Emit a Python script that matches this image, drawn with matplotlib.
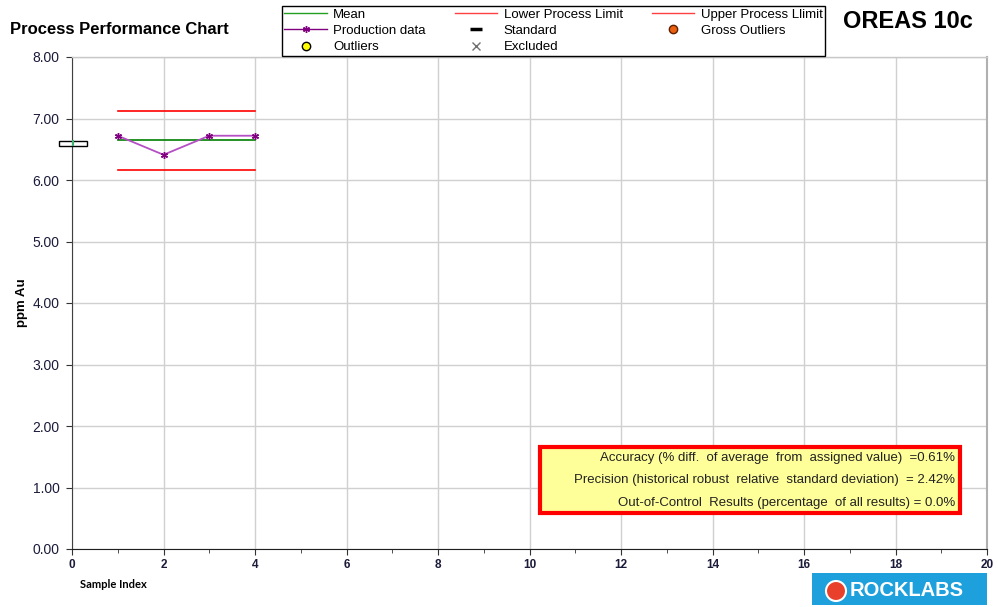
import matplotlib.pyplot as plt
import numpy as np
from matplotlib.lines import Line2D
from matplotlib.patches import Rectangle, Ellipse

plt.rcParams['font.family'] = ['Liberation Sans', 'DejaVu Sans']

sample_index = [1, 2, 3, 4]
production = [6.72, 6.41, 6.72, 6.72]
mean_value = 6.65
lower_limit = 6.16
upper_limit = 7.12
standard_value = 6.60
stats_lines = ['Accuracy (% diff.  of average  from  assigned value)  =0.61%',
               'Precision (historical robust  relative  standard deviation)  = 2.42%',
               'Out-of-Control  Results (percentage  of all results) = 0.0%']

tick_color = '#1b1b3a'

fig = plt.figure(figsize=(9.98, 6.07), dpi=100)
ax = fig.add_axes([72 / 998, 1 - 549 / 607, 915 / 998, 492 / 607])

ax.plot([sample_index[0], sample_index[-1]], [mean_value] * 2, color='#008000', lw=1.2)
ax.plot([sample_index[0], sample_index[-1]], [lower_limit] * 2, color='#ff0000', lw=1.2)
ax.plot([sample_index[0], sample_index[-1]], [upper_limit] * 2, color='#ff0000', lw=1.2)
ax.plot(sample_index, production, color='#b54fc4', lw=1.3,
        marker=(6, 2, 0), ms=5, mec='#800080', mew=1)

# standard box at the left edge
ax.add_patch(Rectangle((-0.28, standard_value - 0.04), 0.6, 0.08, fill=False,
                       ec='black', lw=1, clip_on=False, zorder=5))
ax.plot([0.02, 0.02], [standard_value - 0.035, standard_value + 0.035],
        color='#3cb371', lw=1.5, clip_on=False, zorder=6)

ax.set_xlim(0, 20)
ax.set_ylim(0, 8)
ax.set_xticks(np.arange(0, 21, 2))
ax.set_xticks(np.arange(0, 21, 1), minor=True)
ax.set_yticks(np.arange(0, 9, 1))
ax.set_yticklabels([f'{v:.2f}' for v in np.arange(0, 9, 1)])
ax.tick_params(axis='both', which='major', direction='out', length=4,
               labelsize=10, colors='#333333', labelcolor=tick_color)
ax.tick_params(axis='x', which='major', labelsize=8.5, pad=3)
ax.tick_params(axis='x', which='minor', direction='out', length=3, color='#333333')
ax.tick_params(axis='y', pad=5)
for lab in ax.get_xticklabels():
    lab.set_fontweight('bold')
ax.grid(True, which='major', color='#d0d0d0', lw=1)
ax.set_axisbelow(True)
ax.spines['right'].set_color('#b0b0b0')
ax.spines['right'].set_linewidth(1.5)
ax.spines['top'].set_color('#c8c8c8')
ax.spines['top'].set_linewidth(1)
ax.spines['left'].set_color('#404040')
ax.spines['bottom'].set_color('#202020')

fig.text(22 / 998, 1 - 303 / 607, 'ppm Au', fontsize=9.5, fontweight='bold',
         rotation=90, ha='center', va='center')
fig.text(113 / 998, 1 - 584 / 607, 'Sample Index', fontsize=8, fontweight='bold',
         ha='center', va='center', family=['Lato', 'DejaVu Sans'])

# stats box
fig.patches.append(Rectangle((540 / 998, 1 - 513 / 607), 420 / 998, 66 / 607,
                             transform=fig.transFigure, fc='#ffff99', ec='#ff0000',
                             lw=3, zorder=3))
for i, line in enumerate(stats_lines):
    fig.text(955 / 998, 1 - (458 + i * 22.5) / 607, line, ha='right', va='center',
             fontsize=9.5, color='#222222', zorder=4)

# legend
handles = [
    Line2D([], [], color='#22a022', lw=1),
    Line2D([], [], color='#800080', lw=1, marker=(6, 2, 0), ms=5),
    Line2D([], [], ls='none', marker='o', ms=6, mfc='#ffff00', mec='black'),
    Line2D([], [], color='#ff4040', lw=1),
    Line2D([], [], ls='none', marker='_', ms=8, mew=2.5, color='black'),
    Line2D([], [], ls='none', marker='x', ms=6, color='#707070'),
    Line2D([], [], color='#ff4040', lw=1),
    Line2D([], [], ls='none', marker='o', ms=6, mfc='#e86010', mec='#602000'),
]
labels = ['Mean', 'Production data', 'Outliers', 'Lower Process Limit', 'Standard',
          'Excluded', 'Upper Process Llimit', 'Gross Outliers']
leg = fig.legend(handles, labels, ncol=3, loc='center',
                 bbox_to_anchor=(553.5 / 998, 1 - 31 / 607), fontsize=9.5,
                 frameon=True, fancybox=False, edgecolor='black', framealpha=1,
                 borderpad=0.2, labelspacing=0.3, handlelength=3.2,
                 columnspacing=2.2, handletextpad=0.5)
leg.get_frame().set_linewidth(1)

fig.text(10 / 998, 1 - 30 / 607, 'Process Performance Chart', fontsize=12,
         fontweight='bold', va='center')
fig.text(843 / 998, 1 - 22 / 607, 'OREAS 10c', fontsize=17, fontweight='bold',
         va='center')

# logo
fig.patches.append(Rectangle((812 / 998, 1 - 605 / 607), 175 / 998, 32 / 607,
                             transform=fig.transFigure, fc='#1ea0dc', ec='none'))
fig.patches.append(Ellipse((836 / 998, 1 - 591 / 607), 20 / 998, 20 / 607,
                           transform=fig.transFigure, fc='#e8402a', ec='white', lw=1.5))
fig.text(850 / 998, 1 - 591 / 607, 'ROCKLABS', fontsize=14.5, fontweight='bold',
         color='white', va='center')

fig.savefig('out.png', dpi=100)
